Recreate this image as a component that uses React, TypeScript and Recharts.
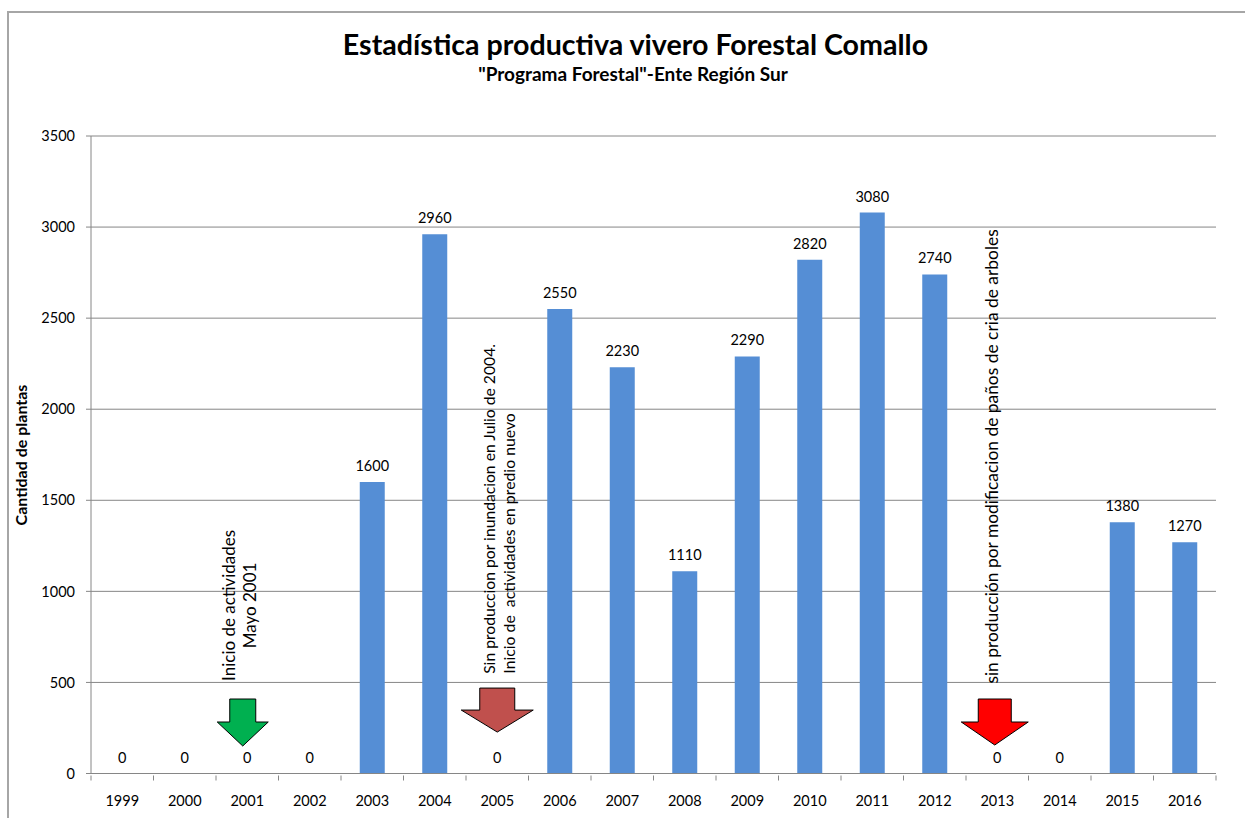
import { ComposedChart, Bar, Line, XAxis, YAxis, CartesianGrid, LabelList, ReferenceDot } from 'recharts'

const years = ['1999', '2000', '2001', '2002', '2003', '2004', '2005', '2006', '2007', '2008', '2009', '2010', '2011', '2012', '2013', '2014', '2015', '2016']
const plants = [0, 0, 0, 0, 1600, 2960, 0, 2550, 2230, 1110, 2290, 2820, 3080, 2740, 0, 0, 1380, 1270]
const yTicks = [0, 500, 1000, 1500, 2000, 2500, 3000, 3500]

const chartData = years.map((year, i) => ({ year, plants: plants[i] }))

const FONT = 'Lato, "Open Sans", sans-serif'
const AXIS = '#868686'
const STEP = 1125 / years.length

// year label plus the tick marks between categories, like the spreadsheet draws them
const YearTick = ({ x, y, payload, index }: any) => (
    <g>
        <line x1={x - STEP / 2} x2={x - STEP / 2} y1={y} y2={y + 5} stroke={AXIS} />
        {index === years.length - 1 && <line x1={x + STEP / 2} x2={x + STEP / 2} y1={y} y2={y + 5} stroke={AXIS} />}
        <text x={x} y={y + 30} textAnchor="middle" fontSize={14.5} fontFamily={FONT} fill="#000">{payload.value}</text>
    </g>
)

// block arrow pointing down, cx/cy is the middle of the top edge
const Arrow = ({ cx, cy, stem, head, stemH, tipH, fill, dx = 0 }: any) => {
    const x = cx + dx
    const d = `M${x - stem},${cy} H${x + stem} V${cy + stemH} H${x + head} L${x},${cy + stemH + tipH} L${x - head},${cy + stemH} H${x - stem} Z`
    return <path d={d} fill={fill} stroke="#000" strokeWidth={1} />
}

// rotated note, one entry per line
const Note = ({ cx, cy, lines }: any) => (
    <g transform={`translate(${cx},${cy}) rotate(-90)`}>
        {lines.map((line: any, i: number) => (
            <text key={i} x={line.x} y={line.y} textAnchor="middle" fontSize={line.size} fontFamily={FONT} fill="#000" style={{ whiteSpace: 'pre' }}>
                {line.text}
            </text>
        ))}
    </g>
)

const App = () => {
    return (
        <div style={{ position: 'absolute', left: 0, top: 0, width: 1245, height: 818, background: '#fff', overflow: 'hidden', fontFamily: FONT }}>
            <div style={{ position: 'absolute', left: 7, top: 11, width: 1300, height: 900, border: '2px solid #a6a6a6' }} />
            <div style={{ position: 'absolute', left: 0, width: 1271, top: 27, textAlign: 'center', fontSize: 28.6, fontWeight: 700, color: '#000' }}>
                Estadística productiva vivero Forestal Comallo
            </div>
            <div style={{ position: 'absolute', left: 0, width: 1266, top: 62, textAlign: 'center', fontSize: 19, fontWeight: 700, color: '#000' }}>
                "Programa Forestal"-Ente Región Sur
            </div>
            <div style={{ position: 'absolute', left: 0, top: 0 }}>
                <ComposedChart width={1245} height={818} data={chartData} barCategoryGap="30%" margin={{ top: 136, right: 29, bottom: 0, left: 0 }}>
                    <CartesianGrid vertical={false} stroke={AXIS} strokeWidth={1} />
                    <XAxis
                        dataKey="year"
                        height={44.5}
                        interval={0}
                        stroke={AXIS}
                        tickLine={false}
                        tickSize={0}
                        tick={<YearTick />}
                    />
                    <YAxis
                        width={91}
                        domain={[0, 3500]}
                        ticks={yTicks}
                        stroke={AXIS}
                        tickSize={5}
                        tick={{ fill: '#000', fontSize: 14.5, fontFamily: FONT }}
                        tickMargin={11}
                    />
                    <Bar dataKey="plants" fill="#558ED5" isAnimationActive={false} />
                    <Line dataKey="plants" stroke="none" dot={false} legendType="none" isAnimationActive={false}>
                        <LabelList dataKey="plants" position="top" offset={11} fill="#000" fontSize={14.5} fontFamily={FONT} />
                    </Line>
                    <ReferenceDot x="2001" y={409} shape={(p: any) => <Arrow {...p} stem={13} head={25.5} stemH={23} tipH={24} fill="#00B050" dx={-4.5} />} />
                    <ReferenceDot x="2005" y={469} shape={(p: any) => <Arrow {...p} stem={17.5} head={36} stemH={22} tipH={22} fill="#C0504D" />} />
                    <ReferenceDot x="2013" y={409} shape={(p: any) => <Arrow {...p} stem={16.5} head={33.5} stemH={23} tipH={23} fill="#FF0000" dx={-2.5} />} />
                    <ReferenceDot x="2001" y={500} shape={(p: any) => <Note {...p} lines={[{ text: 'Inicio de actividades', x: 77, y: -12, size: 17 }, { text: 'Mayo 2001', x: 77, y: 9, size: 17 }]} />} />
                    <ReferenceDot x="2005" y={500} shape={(p: any) => <Note {...p} lines={[{ text: 'Sin produccion por inundacion en Julio de 2004.', x: 173.5, y: -2, size: 15.7 }, { text: 'Inicio de  actividades en predio nuevo', x: 139, y: 18, size: 15.8 }]} />} />
                    <ReferenceDot x="2013" y={500} shape={(p: any) => <Note {...p} lines={[{ text: 'sin producción por modificacion de paños de cria de arboles', x: 226, y: 1, size: 17.4 }]} />} />
                </ComposedChart>
            </div>
            <div style={{ position: 'absolute', left: 20, top: 455, transform: 'translate(-50%,-50%) rotate(-90deg)', whiteSpace: 'nowrap', fontSize: 16, fontWeight: 700, color: '#000' }}>
                Cantidad de plantas
            </div>
        </div>
    )
}

export default App
